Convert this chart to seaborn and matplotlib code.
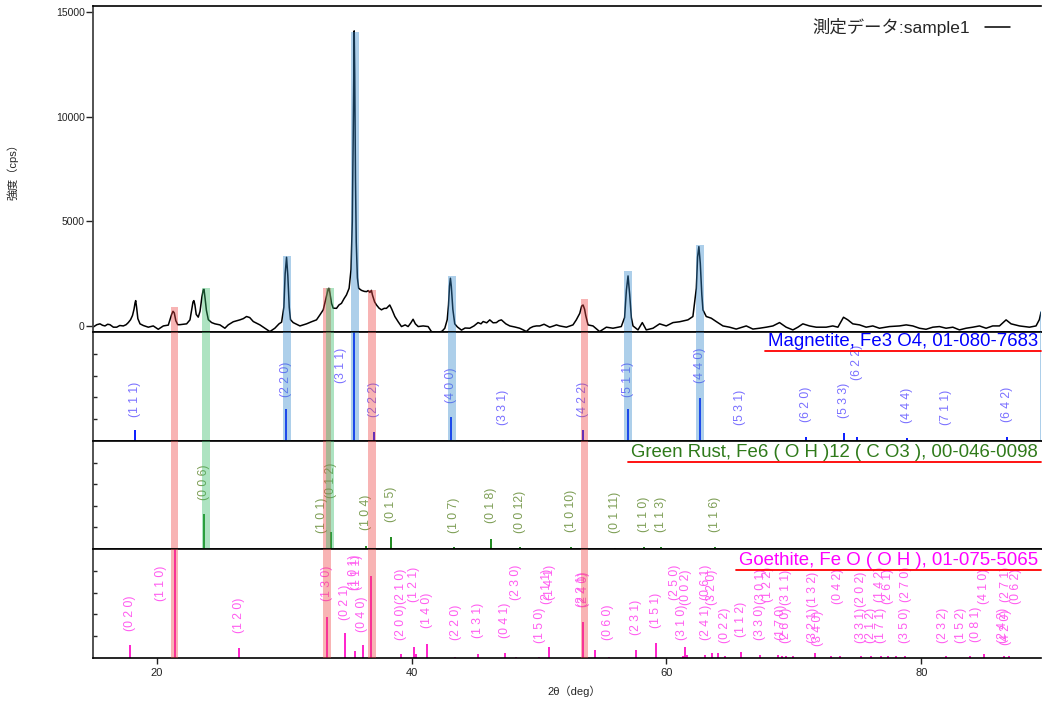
import numpy as np
import pandas as pd
import seaborn as sns
import matplotlib.pyplot as plt
from matplotlib.lines import Line2D

# 測定データ (2θ, cps)
two_theta = [15.00, 15.30, 15.55, 15.75, 15.94, 16.15, 16.33, 16.60, 16.86, 17.10, 17.38, 17.60, 17.77, 17.95,
             18.10, 18.22, 18.30, 18.35, 18.42, 18.52, 18.69, 18.95, 19.34, 19.73, 20.12, 20.52, 20.91, 21.04,
             21.17, 21.28, 21.38, 21.50, 21.65, 21.82, 22.10, 22.35, 22.61, 22.75, 22.85, 22.92, 23.00, 23.10,
             23.26, 23.40, 23.55, 23.65, 23.71, 23.80, 23.90, 24.05, 24.31, 24.57, 24.96, 25.35, 25.61, 26.01,
             26.53, 26.80, 27.05, 27.30, 27.58, 28.10, 28.49, 28.88, 29.27, 29.60, 29.80, 29.98, 30.08, 30.19,
             30.29, 30.40, 30.50, 30.71, 31.24, 31.76, 32.15, 32.54, 32.80, 33.07, 33.28, 33.45, 33.51, 33.60,
             33.72, 33.85, 34.11, 34.30, 34.50, 34.70, 34.89, 35.10, 35.25, 35.35, 35.42, 35.47, 35.50, 35.54,
             35.60, 35.66, 35.75, 35.85, 36.07, 36.30, 36.47, 36.60, 36.73, 36.85, 36.93, 37.10, 37.25, 37.45,
             37.64, 37.85, 38.03, 38.29, 38.45, 38.69, 38.95, 39.21, 39.50, 39.73, 39.95, 40.12, 40.30, 40.52,
             40.91, 41.30, 41.56, 41.80, 42.08, 42.40, 42.61, 42.80, 42.90, 42.98, 43.05, 43.12, 43.24, 43.39,
             43.60, 43.92, 44.20, 44.57, 44.90, 45.22, 45.45, 45.62, 45.90, 46.14, 46.40, 46.66, 46.85, 47.05,
             47.40, 47.71, 48.10, 48.49, 48.80, 49.01, 49.30, 49.54, 49.80, 50.06, 50.40, 50.84, 51.10, 51.37,
             51.63, 52.15, 52.67, 52.93, 53.20, 53.35, 53.46, 53.58, 53.67, 53.85, 54.24, 54.76, 55.29, 55.81,
             56.46, 56.72, 56.86, 56.99, 57.12, 57.25, 57.38, 57.77, 58.11, 58.42, 58.95, 59.47, 59.99, 60.52,
             61.04, 61.69, 62.08, 62.35, 62.45, 62.55, 62.66, 62.78, 62.87, 63.13, 63.52, 63.91, 64.44, 64.96,
             65.48, 66.27, 66.79, 67.31, 67.84, 68.36, 68.88, 69.40, 69.93, 70.32, 70.71, 71.23, 71.76, 72.54,
             73.06, 73.46, 73.90, 74.24, 74.63, 75.16, 75.68, 76.20, 76.72, 77.51, 78.29, 78.82, 79.34, 79.86,
             80.38, 80.91, 81.43, 81.95, 82.48, 83.00, 83.52, 84.05, 84.57, 85.09, 85.61, 86.14, 86.66, 87.05,
             87.71, 88.49, 89.01, 89.27, 89.40]
intensity = [-60, 60, 100, 30, 0, 80, 60, -60, -60, 20, 0, 60, 160, 300,
             500, 800, 1100, 1210, 900, 350, 100, 20, -60, 0, -160, 0, 40, 290,
             550, 700, 620, 250, 60, 60, 80, 100, 290, 800, 1150, 1210, 1000, 550,
             420, 700, 1400, 1720, 1750, 1300, 750, 300, 160, 100, 50, -110, 50, 200,
             290, 350, 450, 400, 210, 50, -110, -270, -110, 100, 180, 900, 2500, 3280,
             2400, 900, 300, 160, 0, 100, 200, 290, 520, 770, 1300, 1750, 1800, 1550,
             1080, 850, 840, 1000, 1080, 1300, 1480, 1800, 2700, 5000, 9000, 12500, 14100, 12000,
             7000, 4000, 2300, 1800, 1700, 1650, 1640, 1690, 1600, 1700, 1480, 1150, 1000, 850,
             770, 840, 840, 1000, 800, 450, 200, -30, 50, -30, 150, 320, 100, -30,
             0, -30, -270, -300, -320, -250, -110, 300, 1000, 1900, 2280, 1900, 800, 100,
             -50, -200, -100, -110, 0, 160, 100, 210, 150, 290, 150, 160, 250, 290,
             100, 0, -50, -110, -200, -270, -100, -30, 0, 0, 80, -60, -10, 50,
             0, -60, 50, 290, 600, 950, 1000, 800, 500, 50, 0, -270, -60, -110,
             -30, 400, 1700, 2390, 1500, 400, 0, -190, 160, -190, -110, 100, 0, 160,
             200, 290, 450, 1800, 3300, 3790, 3000, 1500, 765, 450, 370, 210, 0, -60,
             -150, 0, -150, -110, -60, 0, 160, -60, -190, -60, 100, 0, -60, -60,
             0, -60, 415, 290, 100, 50, -60, 0, -110, -30, 0, 50, 0, -110,
             -160, -60, -30, -110, -60, -190, -110, -60, 0, -110, 0, 0, 290, 100,
             0, -60, 0, 300, 650]

# Magnetite, Fe3 O4
mag_hkl = ["(1 1 1)", "(2 2 0)", "(3 1 1)", "(2 2 2)", "(4 0 0)", "(3 3 1)", "(4 2 2)", "(5 1 1)",
           "(4 4 0)", "(5 3 1)", "(6 2 0)", "(5 3 3)", "(6 2 2)", "(4 4 4)", "(7 1 1)", "(6 4 2)"]
mag_pos = [18.30, 30.11, 35.47, 37.09, 43.08, 47.16, 53.46, 56.99, 62.60, 65.75, 70.92, 73.93,
           74.97, 78.92, 81.95, 86.74]
mag_int = [10, 29, 100, 8.5, 22, 1, 10, 29, 39, 1, 4, 7.5, 4, 3, 0.5, 4]

# Green Rust
gr_hkl = ["(0 0 6)", "(1 0 1)", "(0 1 2)", "(1 0 4)", "(0 1 5)", "(1 0 7)", "(0 1 8)", "(0 0 12)",
          "(1 0 10)", "(0 1 11)", "(1 1 0)", "(1 1 3)", "(1 1 6)"]
gr_pos = [23.70, 32.94, 33.64, 36.46, 38.42, 43.31, 46.24, 48.49, 52.55, 55.94, 58.22, 59.60, 63.78]
gr_int = [32, 1, 15.5, 3, 11, 1.5, 9, 1.5, 1.5, 1, 1.5, 1.5, 1.5]

# Goethite sticks
goe_pos = [17.90, 21.40, 26.45, 33.33, 34.76, 35.57, 36.18, 36.80, 39.21, 40.18, 40.36, 41.25,
           43.39, 45.25, 47.37, 48.18, 50.01, 50.79, 53.46, 54.37, 55.50, 57.64, 59.16, 61.30,
           61.48, 61.64, 63.05, 63.60, 64.04, 64.57, 65.88, 67.36, 68.75, 69.10, 69.40, 69.93,
           71.63, 72.93, 73.59, 75.29, 76.07, 76.86, 77.38, 78.03, 78.69, 81.95, 83.86, 84.96,
           86.53, 86.92]
goe_int = [12, 100, 9, 38, 23, 6, 12, 75, 3.5, 10.5, 3.5, 13,
           1.2, 3.7, 5, 1.2, 1, 10.5, 33, 7, 1, 7, 14, 2,
           10.5, 3, 3, 5, 5, 2, 5.5, 3, 3, 2, 2, 2,
           5, 2, 2, 2, 2, 2, 2, 1.5, 2, 1.5, 1.5, 4,
           2, 2]
# Goethite labels
goe_hkl = ["(0 2 0)", "(1 1 0)", "(1 2 0)", "(1 3 0)", "(0 2 1)", "(1 0 1)", "(1 1 1)", "(0 4 0)",
           "(2 0 0)", "(2 1 0)", "(1 2 1)", "(1 4 0)", "(2 2 0)", "(1 3 1)", "(0 4 1)", "(2 3 0)",
           "(1 5 0)", "(2 1 1)", "(1 4 1)", "(2 2 1)", "(2 4 0)", "(0 6 0)", "(2 3 1)", "(1 5 1)",
           "(2 5 0)", "(3 1 0)", "(0 0 2)", "(2 4 1)", "(0 6 1)", "(3 2 0)", "(0 2 2)", "(1 1 2)",
           "(3 3 0)", "(3 0 1)", "(1 2 2)", "(1 7 0)", "(2 6 0)", "(3 1 1)", "(3 2 1)", "(1 3 2)",
           "(3 4 0)", "(0 4 2)", "(3 3 1)", "(2 0 2)", "(2 1 2)", "(1 7 1)", "(1 4 2)", "(2 6 1)",
           "(3 5 0)", "(2 7 0)", "(2 3 2)", "(1 5 2)", "(0 8 1)", "(4 1 0)", "(2 4 2)", "(4 2 0)",
           "(2 7 1)", "(0 6 2)"]
goe_label_x = [17.90, 20.30, 26.45, 33.33, 34.76, 35.45, 35.75, 36.10,
               39.21, 39.21, 40.20, 41.25, 43.45, 45.20, 47.37, 48.18,
               50.05, 50.60, 50.85, 53.35, 53.55, 55.42, 57.64, 59.16,
               60.65, 61.25, 61.56, 63.13, 63.13, 63.60, 64.57, 65.88,
               67.31, 67.40, 67.97, 69.01, 69.40, 69.40, 71.50, 71.50,
               71.90, 73.46, 75.29, 75.29, 76.07, 76.86, 76.74, 77.38,
               78.69, 78.82, 81.69, 83.13, 84.31, 84.96, 86.40, 86.66,
               86.66, 87.45]

# highlighted peaks: phase, centre, top (cps)
band_phase = ["goe", "gr", "mag", "goe", "gr", "mag", "goe", "mag", "goe", "mag", "mag", "mag"]
band_pos = [21.39, 23.86, 30.22, 33.36, 33.57, 35.54, 36.88, 43.16, 53.57, 56.96, 62.61, 89.60]
band_top = [890, 1800, 3346, 1800, 1800, 14050, 1720, 2390, 1290, 2630, 3870, 730]

# ---- layout / style ----
mag_label_y = [22, 40, 53, 22, 35, 15, 22, 40, 53, 15, 17, 21, 56, 16.5, 15, 17]
mag_label_shift = {"(3 1 1)": -0.97}
gr_label_y = [45, 15, 47, 18, 25, 15, 24, 15, 16, 15, 16, 16, 16]
goe_label_y = [25, 52, 23, 52, 35, 62, 62, 24,
               16.5, 50, 51, 27.5, 16.5, 18, 18, 53,
               13.8, 50, 53, 47, 47, 16.5, 21, 27.5,
               53, 16.5, 48.6, 16.5, 53, 48.6, 13.8, 19.5,
               16.5, 50, 51, 16.5, 13.8, 48.6, 13.8, 47,
               11, 50, 13.8, 47, 13.8, 13.8, 51, 50,
               13.8, 51, 13.8, 13.8, 14.5, 50, 13.8, 12,
               51, 50]

sns.set_theme(style="white")
plt.rcParams["font.family"] = ["Liberation Sans", "Noto Sans CJK JP"]
plt.rcParams["axes.unicode_minus"] = False

W_PX, H_PX = 1042, 701
fig = plt.figure(figsize=(W_PX / 100, H_PX / 100), dpi=100)


def px_axes(top, bottom):
    return fig.add_axes([93 / W_PX, 1 - bottom / H_PX, 948 / W_PX, (bottom - top) / H_PX])


ax0 = px_axes(6, 332)
ax_mag = px_axes(332, 441)
ax_gr = px_axes(441, 549)
ax_goe = px_axes(549, 658)
axes = [ax0, ax_mag, ax_gr, ax_goe]

XMIN, XMAX = 15, 89.4
Y0 = (-290, 15290)

# spectrum
df = pd.DataFrame({"2theta": two_theta, "cps": intensity})
sns.lineplot(data=df, x="2theta", y="cps", ax=ax0, color="black", lw=1.1,
             sort=False, estimator=None, label="測定データ:sample1")
ax0.legend(loc="upper right", bbox_to_anchor=(0.967, 0.962), frameon=False, markerfirst=False,
           fontsize=12.5, handlelength=1.4, handletextpad=0.9, borderpad=0, borderaxespad=0)

band_colors = {"mag": "#3388cc", "gr": "#33bb66", "goe": "#ee4444"}
covers = {"mag": [ax_mag], "gr": [ax_mag, ax_gr], "goe": [ax_mag, ax_gr, ax_goe]}
BW = 0.61

phases = [
    (ax_mag, mag_pos, mag_int, "#0a1cff", "#7a70ff", mag_hkl, [p + mag_label_shift.get(h, 0) for p, h in zip(mag_pos, mag_hkl)], mag_label_y),
    (ax_gr, gr_pos, gr_int, "#1f8a1f", "#7d9e55", gr_hkl, gr_pos, gr_label_y),
    (ax_goe, goe_pos, goe_int, "#ff22cc", "#ff5cf0", goe_hkl, goe_label_x, goe_label_y),
]
for ax, pos, inten, c_stick, c_lab, hkl, lx, ly in phases:
    ax.vlines(pos, 0, inten, color=c_stick, lw=1.4, zorder=2)
    for h, x, y in zip(hkl, lx, ly):
        ax.text(x, y, h, rotation=90, ha="center", va="bottom", fontsize=8.8,
                color=c_lab, clip_on=True, zorder=3)

for ph, x, top in zip(band_phase, band_pos, band_top):
    c = band_colors[ph]
    ax0.bar(x, top - Y0[0], bottom=Y0[0], width=BW, color=c, alpha=0.4, lw=0, zorder=4)
    for ax in covers[ph]:
        ax.axvspan(x - BW / 2, x + BW / 2, color=c, alpha=0.4, lw=0, zorder=4)

# axes styling
for ax in axes:
    ax.set_xlim(XMIN, XMAX)
    ax.set_xlabel("")
    ax.set_ylabel("")
    ax.spines["right"].set_visible(False)
    for s in ["top", "bottom"]:
        ax.spines[s].set_color("black")
        ax.spines[s].set_linewidth(1.2)
    ax.spines["left"].set_color("#444444")
    ax.spines["left"].set_linewidth(1.3)
    ax.set_facecolor("white")
    if ax is not ax_goe:
        ax.tick_params(axis="x", bottom=False, labelbottom=False)

ax0.set_ylim(*Y0)
ax0.set_yticks([0, 5000, 10000, 15000])
ax0.tick_params(axis="y", left=True, direction="out", length=5, width=1, labelsize=7.5, pad=1,
                colors="#222222")
ax0.set_ylabel("強度（cps）", fontsize=8)
ax0.yaxis.set_label_coords(-0.079, 0.5)

for ax in [ax_mag, ax_gr, ax_goe]:
    ax.set_ylim(0, 100)
    ax.set_yticks([20, 40, 60, 80])
    ax.tick_params(axis="y", left=True, direction="in", length=3, width=1, labelleft=False)

ax_goe.set_xticks([20, 40, 60, 80])
ax_goe.tick_params(axis="x", bottom=True, direction="out", length=4, width=1, labelsize=8, pad=3,
                   colors="#222222")
ax_goe.set_xlabel("2θ（deg）", fontsize=8)
ax_goe.xaxis.set_label_coords(0.508, -0.25)

# phase titles with red underline
titles = [
    (ax_mag, "Magnetite, Fe3 O4, 01-080-7683", "#0000ff", 0.99),
    (ax_gr, "Green Rust, Fe6 ( O H )12 ( C O3 ), 00-046-0098", "#2f7a1a", 0.97),
    (ax_goe, "Goethite, Fe O ( O H ), 01-075-5065", "#ff00ff", 0.975),
]
texts = []
for ax, t, c, y in titles:
    texts.append(ax.text(0.997, y, t, transform=ax.transAxes, ha="right", va="top",
                         fontsize=13.45, color=c, zorder=5))

fig.canvas.draw()
renderer = fig.canvas.get_renderer()
for tx in texts:
    bb = tx.get_window_extent(renderer)
    y = (bb.y0 - 1) / fig.bbox.height
    fig.add_artist(Line2D([bb.x0 / fig.bbox.width - 0.003, 1041 / W_PX], [y, y],
                          transform=fig.transFigure, color="red", lw=1.3))

plt.savefig("out.png", dpi=100)
